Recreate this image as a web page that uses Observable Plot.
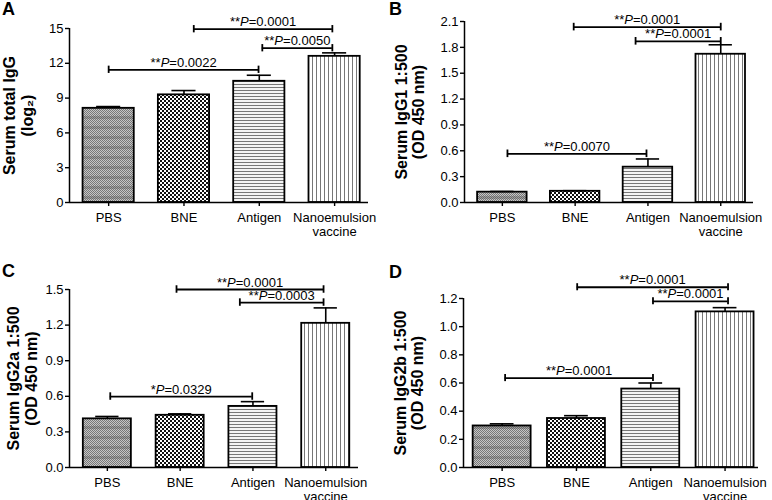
<!DOCTYPE html>
<html>
<head>
<meta charset="utf-8">
<script src="https://cdn.jsdelivr.net/npm/d3@7"></script>
<script src="https://cdn.jsdelivr.net/npm/@observablehq/plot@0.6"></script>
<style>
  body { margin: 0; background: #fff; }
  #wrap { position: relative; width: 772px; height: 500px; overflow: hidden; font-family: "Liberation Sans", Arial, sans-serif; }
  .panel { position: absolute; width: 386px; height: 250px; }
  .letter { position: absolute; font-weight: bold; font-size: 18px; line-height: 18px; color: #000; }
  svg { overflow: visible; }
</style>
</head>
<body>
<svg width="0" height="0" style="position:absolute">
  <defs>
    <pattern id="pat0" patternUnits="userSpaceOnUse" width="2" height="10">
      <rect x="0" y="0" width="2" height="10" fill="#c6c6c6"/>
      <rect x="0" y="0" width="1" height="1" fill="#777"/><rect x="1" y="1" width="1" height="1" fill="#777"/>
      <rect x="0" y="2" width="1" height="1" fill="#777"/><rect x="1" y="3" width="1" height="1" fill="#777"/>
      <rect x="0" y="4" width="1" height="1" fill="#777"/><rect x="1" y="5" width="1" height="1" fill="#777"/>
      <rect x="0" y="6" width="1" height="1" fill="#777"/><rect x="1" y="7" width="1" height="1" fill="#777"/>
      <rect x="0" y="8" width="1" height="1" fill="#777"/><rect x="1" y="9" width="1" height="1" fill="#777"/>
      <rect x="0" y="6" width="2" height="3" fill="#555" fill-opacity="0.35"/>
    </pattern>
    <pattern id="pat1" patternUnits="userSpaceOnUse" width="4" height="4">
      <rect x="0" y="0" width="4" height="4" fill="#fff"/>
      <rect x="0" y="0" width="2" height="2" fill="#111"/>
      <rect x="2" y="2" width="2" height="2" fill="#111"/>
    </pattern>
    <pattern id="pat2" patternUnits="userSpaceOnUse" width="4" height="3">
      <rect x="0" y="0" width="4" height="3" fill="#f4f4f4"/>
      <rect x="0" y="0" width="4" height="1" fill="#777"/>
    </pattern>
    <pattern id="pat3" patternUnits="userSpaceOnUse" width="4" height="4">
      <rect x="0" y="0" width="4" height="4" fill="#fff"/>
      <rect x="0" y="0" width="1" height="4" fill="#777"/>
    </pattern>
  </defs>
</svg>
<div id="wrap"></div>
<script>
// ---------- data ----------
const categories = ["PBS", "BNE", "Antigen", "Nanoemulsion\nvaccine"];
const patterns = ["url(#pat0)", "url(#pat1)", "url(#pat2)", "url(#pat3)"];

const meanA = [8.12, 9.28, 10.45, 12.6];
const errA  = [0.15, 0.37, 0.52, 0.3];
const meanB = [0.12, 0.13, 0.41, 1.72];
const errB  = [0.008, 0.007, 0.095, 0.11];
const meanC = [0.41, 0.44, 0.515, 1.215];
const errC  = [0.02, 0.012, 0.04, 0.13];
const meanD = [0.295, 0.348, 0.557, 1.105];
const errD  = [0.015, 0.02, 0.043, 0.03];

const ticksA = [0, 3, 6, 9, 12, 15];
const ticksB = [0, 0.3, 0.6, 0.9, 1.2, 1.5, 1.8, 2.1];
const ticksC = [0, 0.3, 0.6, 0.9, 1.2, 1.5];
const ticksD = [0, 0.2, 0.4, 0.6, 0.8, 1.0, 1.2];

const bracketsA = [
  {from: 0, to: 1.99, y: 11.44, label: "**P=0.0022"},
  {from: 1.13, to: 2.97, y: 14.94, label: "**P=0.0001"},
  {from: 2.04, to: 2.97, y: 13.3, label: "**P=0.0050"}
];
const bracketsB = [
  {from: 0.07, to: 1.98, y: 0.565, label: "**P=0.0070"},
  {from: 0.98, to: 3.0, y: 2.035, label: "**P=0.0001"},
  {from: 1.83, to: 3.0, y: 1.87, label: "**P=0.0001"}
];
const bracketsC = [
  {from: 0.04, to: 1.99, y: 0.598, label: "*P=0.0329"},
  {from: 0.95, to: 2.97, y: 1.5, label: "**P=0.0001"},
  {from: 1.82, to: 2.97, y: 1.39, label: "**P=0.0003"}
];
const bracketsD = [
  {from: 0.04, to: 2.03, y: 0.635, label: "**P=0.0001"},
  {from: 1.01, to: 3.04, y: 1.28, label: "**P=0.0001"},
  {from: 2.03, to: 3.04, y: 1.18, label: "**P=0.0001"}
];

const labelA = "Serum total IgG\n(log\u2082)";
const labelB = "Serum IgG1 1:500\n(OD 450 nm)";
const labelC = "Serum IgG2a 1:500\n(OD 450 nm)";
const labelD = "Serum IgG2b 1:500\n(OD 450 nm)";

// ---------- layout ----------
const panels = [
  {letter: "A", left: 0, top: 0, mean: meanA, err: errA, ticks: ticksA, fmt: d3.format("d"), brackets: bracketsA, ylabel: labelA,
   mL: 69, mR: 18, mT: 28, mB: 48, barHalf: 0.34, labelDx: -51, lx: 2, ly: 0},
  {letter: "B", left: 386, top: 0, mean: meanB, err: errB, ticks: ticksB, fmt: d3.format(".1f"), brackets: bracketsB, ylabel: labelB,
   mL: 78, mR: 19, mT: 21, mB: 48, barHalf: 0.34, labelDx: -54.5, lx: 3, ly: 0},
  {letter: "C", left: 0, top: 250, mean: meanC, err: errC, ticks: ticksC, fmt: d3.format(".1f"), brackets: bracketsC, ylabel: labelC,
   mL: 69, mR: 28, mT: 39, mB: 33, barHalf: 0.33, labelDx: -47, lx: 2, ly: 12},
  {letter: "D", left: 386, top: 250, mean: meanD, err: errD, ticks: ticksD, fmt: d3.format(".1f"), brackets: bracketsD, ylabel: labelD,
   mL: 77, mR: 14, mT: 48, mB: 33, barHalf: 0.39, labelDx: -54.5, lx: 3, ly: 13}
];

const xDomain = [-0.52, 3.45];
const wrap = document.getElementById("wrap");

for (const cfg of panels) {
  const rows = categories.map((c, i) => ({i, mean: cfg.mean[i], top: cfg.mean[i] + cfg.err[i], pat: patterns[i]}));
  const yMax = cfg.ticks[cfg.ticks.length - 1];
  const cap = yMax * 0.021;
  const chart = Plot.plot({
    width: 386, height: 250,
    marginLeft: cfg.mL, marginRight: cfg.mR, marginTop: cfg.mT, marginBottom: cfg.mB,
    style: {fontFamily: "'Liberation Sans', Arial, sans-serif", fontSize: "13px", color: "#000", background: "transparent", overflow: "visible"},
    x: {domain: xDomain, axis: null},
    y: {domain: [0, yMax], axis: null},
    color: {type: "identity"},
    marks: [
      Plot.rectY(rows, {x1: d => d.i - cfg.barHalf, x2: d => d.i + cfg.barHalf, y1: 0, y2: "mean", fill: "pat", stroke: "#000", strokeWidth: 1.8}),
      Plot.ruleX(rows, {x: "i", y1: "mean", y2: "top", stroke: "#000", strokeWidth: 1.6}),
      Plot.ruleY(rows, {x1: d => d.i - 0.16, x2: d => d.i + 0.16, y: "top", stroke: "#000", strokeWidth: 1.6}),
      Plot.ruleY(cfg.brackets, {x1: "from", x2: "to", y: "y", stroke: "#000", strokeWidth: 1.8}),
      Plot.ruleX(cfg.brackets, {x: "from", y1: d => d.y - cap, y2: d => d.y + cap, stroke: "#000", strokeWidth: 1.8}),
      Plot.ruleX(cfg.brackets, {x: "to", y1: d => d.y - cap, y2: d => d.y + cap, stroke: "#000", strokeWidth: 1.8}),
      Plot.text(cfg.brackets, {x: d => (d.from + d.to) / 2, y: "y", text: "label", lineAnchor: "bottom", dy: -3, fontSize: 13, fill: "#000"}),
      Plot.axisX({ticks: [0, 1, 2, 3], tickFormat: i => categories[i], tickSize: 4, tickPadding: 6, label: null, strokeWidth: 1.4, fontSize: 13, lineHeight: 1.05}),
      Plot.axisY({ticks: cfg.ticks, tickFormat: cfg.fmt, tickSize: 4, tickPadding: 2, label: null, strokeWidth: 1.4, fontSize: 13}),
      Plot.ruleY([0], {x1: xDomain[0], x2: xDomain[1], stroke: "#000", strokeWidth: 1.5}),
      Plot.ruleX([xDomain[0]], {y1: 0, y2: yMax, stroke: "#000", strokeWidth: 1.5}),
      Plot.text([cfg.ylabel], {frameAnchor: "left", dx: cfg.labelDx, rotate: -90, text: d => d, fontWeight: "bold", fontSize: 16, lineHeight: 1.1, textAnchor: "middle", lineAnchor: "middle", fill: "#000"})
    ]
  });
  // italic P in significance labels
  chart.querySelectorAll("text").forEach(t => {
    const m = /^(\*+)P(=.*)$/.exec(t.textContent);
    if (m && t.childElementCount === 0) {
      t.textContent = "";
      const ns = "http://www.w3.org/2000/svg";
      const a = document.createElementNS(ns, "tspan"); a.textContent = m[1];
      const b = document.createElementNS(ns, "tspan"); b.textContent = "P"; b.setAttribute("font-style", "italic");
      const c = document.createElementNS(ns, "tspan"); c.textContent = m[2];
      t.append(a, b, c);
    }
  });
  const div = document.createElement("div");
  div.className = "panel";
  div.style.left = cfg.left + "px";
  div.style.top = cfg.top + "px";
  div.appendChild(chart);
  const L = document.createElement("div");
  L.className = "letter";
  L.textContent = cfg.letter;
  L.style.left = cfg.lx + "px";
  L.style.top = cfg.ly + "px";
  div.appendChild(L);
  wrap.appendChild(div);
}
</script>
</body>
</html>
